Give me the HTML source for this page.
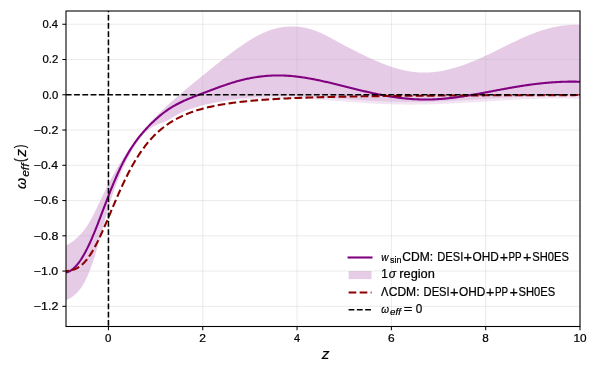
<!DOCTYPE html>
<html><head><meta charset="utf-8"><title>w_eff(z)</title>
<style>
html,body{margin:0;padding:0;background:#fff;}
body{width:598px;height:374px;overflow:hidden;font-family:"Liberation Sans",sans-serif;}
svg{display:block;will-change:transform;}
text{font-family:"Liberation Sans",sans-serif;fill:#000;stroke:#000;stroke-width:0.22px;}
.tl{font-size:10.9px;}
.tk{stroke:#000;stroke-width:1.04;}
.gr{stroke:#b0b0b0;stroke-width:0.83;stroke-opacity:0.3;}
.lg{font-size:11.6px;}
</style></head>
<body>
<svg width="598" height="374" viewBox="0 0 598 374">
<rect x="0" y="0" width="598" height="374" fill="#ffffff"/>
<defs><clipPath id="ax"><rect x="66.0" y="11.0" width="514.0" height="315.5"/></clipPath></defs>
<g clip-path="url(#ax)">
<path d="M66.00,245.52 L67.00,244.99 L68.00,244.43 L69.00,243.85 L70.00,243.22 L71.00,242.57 L72.00,241.88 L73.00,241.16 L74.00,240.39 L75.00,239.59 L76.00,238.74 L77.00,237.85 L78.00,236.91 L79.00,235.92 L80.00,234.88 L81.00,233.78 L82.00,232.63 L83.00,231.42 L84.00,230.14 L85.00,228.80 L86.00,227.40 L87.00,225.92 L88.00,224.38 L89.00,222.76 L90.00,221.07 L91.00,219.31 L92.00,217.48 L93.00,215.59 L94.00,213.63 L95.00,211.62 L96.00,209.57 L97.00,207.48 L98.00,205.37 L99.00,203.24 L100.00,201.12 L101.00,199.01 L102.00,196.92 L103.00,194.85 L104.00,192.80 L105.00,190.78 L106.00,188.78 L107.00,186.79 L108.00,184.84 L109.00,182.90 L110.00,180.99 L111.00,179.10 L112.00,177.24 L113.00,175.40 L114.00,173.58 L115.00,171.78 L116.00,170.01 L117.00,168.27 L118.00,166.54 L119.00,164.84 L120.00,163.17 L121.00,161.51 L122.00,159.89 L123.00,158.28 L124.00,156.69 L125.00,155.13 L126.00,153.59 L127.00,152.08 L128.00,150.58 L129.00,149.11 L130.00,147.66 L131.00,146.22 L132.00,144.81 L133.00,143.43 L134.00,142.06 L135.00,140.71 L136.00,139.38 L137.00,138.07 L138.00,136.78 L139.00,135.51 L140.00,134.26 L141.00,133.02 L142.00,131.81 L143.00,130.61 L144.00,129.43 L145.00,128.27 L146.00,127.12 L147.00,125.99 L148.00,124.88 L149.00,123.78 L150.00,122.69 L151.00,121.62 L152.00,120.55 L153.00,119.50 L154.00,118.47 L155.00,117.44 L156.00,116.42 L157.00,115.42 L158.00,114.42 L159.00,113.43 L160.00,112.46 L161.00,111.49 L162.00,110.53 L163.00,109.57 L164.00,108.63 L165.00,107.69 L166.00,106.76 L167.00,105.84 L168.00,104.92 L169.00,104.01 L170.00,103.10 L171.00,102.21 L172.00,101.31 L173.00,100.43 L174.00,99.54 L175.00,98.66 L176.00,97.79 L177.00,96.92 L178.00,96.06 L179.00,95.20 L180.00,94.34 L181.00,93.49 L182.00,92.64 L183.00,91.80 L184.00,90.95 L185.00,90.11 L186.00,89.28 L187.00,88.44 L188.00,87.61 L189.00,86.78 L190.00,85.96 L191.00,85.13 L192.00,84.31 L193.00,83.48 L194.00,82.66 L195.00,81.85 L196.00,81.03 L197.00,80.21 L198.00,79.40 L199.00,78.58 L200.00,77.77 L201.00,76.95 L202.00,76.14 L203.00,75.32 L204.00,74.51 L205.00,73.70 L206.00,72.88 L207.00,72.07 L208.00,71.26 L209.00,70.44 L210.00,69.63 L211.00,68.82 L212.00,68.01 L213.00,67.21 L214.00,66.40 L215.00,65.60 L216.00,64.80 L217.00,64.00 L218.00,63.21 L219.00,62.41 L220.00,61.62 L221.00,60.84 L222.00,60.05 L223.00,59.27 L224.00,58.50 L225.00,57.72 L226.00,56.96 L227.00,56.19 L228.00,55.43 L229.00,54.68 L230.00,53.92 L231.00,53.18 L232.00,52.44 L233.00,51.70 L234.00,50.97 L235.00,50.24 L236.00,49.52 L237.00,48.81 L238.00,48.10 L239.00,47.39 L240.00,46.69 L241.00,46.00 L242.00,45.31 L243.00,44.63 L244.00,43.96 L245.00,43.29 L246.00,42.63 L247.00,41.98 L248.00,41.34 L249.00,40.70 L250.00,40.08 L251.00,39.46 L252.00,38.86 L253.00,38.27 L254.00,37.69 L255.00,37.12 L256.00,36.56 L257.00,36.01 L258.00,35.48 L259.00,34.96 L260.00,34.46 L261.00,33.97 L262.00,33.49 L263.00,33.02 L264.00,32.58 L265.00,32.14 L266.00,31.72 L267.00,31.32 L268.00,30.93 L269.00,30.56 L270.00,30.20 L271.00,29.86 L272.00,29.54 L273.00,29.23 L274.00,28.95 L275.00,28.67 L276.00,28.42 L277.00,28.18 L278.00,27.96 L279.00,27.75 L280.00,27.56 L281.00,27.39 L282.00,27.23 L283.00,27.09 L284.00,26.96 L285.00,26.85 L286.00,26.76 L287.00,26.68 L288.00,26.61 L289.00,26.56 L290.00,26.52 L291.00,26.50 L292.00,26.50 L293.00,26.51 L294.00,26.53 L295.00,26.57 L296.00,26.62 L297.00,26.69 L298.00,26.77 L299.00,26.87 L300.00,26.98 L301.00,27.11 L302.00,27.26 L303.00,27.42 L304.00,27.59 L305.00,27.78 L306.00,27.99 L307.00,28.21 L308.00,28.45 L309.00,28.71 L310.00,28.99 L311.00,29.28 L312.00,29.59 L313.00,29.91 L314.00,30.25 L315.00,30.61 L316.00,30.99 L317.00,31.37 L318.00,31.78 L319.00,32.19 L320.00,32.62 L321.00,33.06 L322.00,33.52 L323.00,33.98 L324.00,34.46 L325.00,34.95 L326.00,35.45 L327.00,35.95 L328.00,36.47 L329.00,36.99 L330.00,37.51 L331.00,38.05 L332.00,38.59 L333.00,39.13 L334.00,39.68 L335.00,40.23 L336.00,40.78 L337.00,41.33 L338.00,41.88 L339.00,42.43 L340.00,42.98 L341.00,43.52 L342.00,44.07 L343.00,44.61 L344.00,45.14 L345.00,45.68 L346.00,46.21 L347.00,46.73 L348.00,47.26 L349.00,47.78 L350.00,48.30 L351.00,48.82 L352.00,49.33 L353.00,49.85 L354.00,50.36 L355.00,50.87 L356.00,51.37 L357.00,51.87 L358.00,52.38 L359.00,52.88 L360.00,53.37 L361.00,53.87 L362.00,54.36 L363.00,54.85 L364.00,55.33 L365.00,55.81 L366.00,56.29 L367.00,56.77 L368.00,57.24 L369.00,57.70 L370.00,58.17 L371.00,58.62 L372.00,59.08 L373.00,59.53 L374.00,59.97 L375.00,60.41 L376.00,60.84 L377.00,61.27 L378.00,61.69 L379.00,62.11 L380.00,62.52 L381.00,62.93 L382.00,63.33 L383.00,63.72 L384.00,64.11 L385.00,64.49 L386.00,64.86 L387.00,65.23 L388.00,65.59 L389.00,65.94 L390.00,66.29 L391.00,66.63 L392.00,66.96 L393.00,67.28 L394.00,67.60 L395.00,67.90 L396.00,68.20 L397.00,68.49 L398.00,68.78 L399.00,69.05 L400.00,69.32 L401.00,69.57 L402.00,69.82 L403.00,70.06 L404.00,70.28 L405.00,70.50 L406.00,70.71 L407.00,70.91 L408.00,71.10 L409.00,71.28 L410.00,71.45 L411.00,71.60 L412.00,71.75 L413.00,71.88 L414.00,72.01 L415.00,72.12 L416.00,72.22 L417.00,72.31 L418.00,72.39 L419.00,72.46 L420.00,72.51 L421.00,72.55 L422.00,72.58 L423.00,72.60 L424.00,72.61 L425.00,72.60 L426.00,72.59 L427.00,72.56 L428.00,72.52 L429.00,72.47 L430.00,72.41 L431.00,72.34 L432.00,72.26 L433.00,72.16 L434.00,72.06 L435.00,71.95 L436.00,71.82 L437.00,71.69 L438.00,71.55 L439.00,71.39 L440.00,71.23 L441.00,71.06 L442.00,70.88 L443.00,70.69 L444.00,70.49 L445.00,70.28 L446.00,70.06 L447.00,69.84 L448.00,69.60 L449.00,69.36 L450.00,69.11 L451.00,68.85 L452.00,68.58 L453.00,68.30 L454.00,68.02 L455.00,67.73 L456.00,67.43 L457.00,67.12 L458.00,66.81 L459.00,66.49 L460.00,66.16 L461.00,65.83 L462.00,65.49 L463.00,65.14 L464.00,64.78 L465.00,64.42 L466.00,64.05 L467.00,63.68 L468.00,63.30 L469.00,62.91 L470.00,62.52 L471.00,62.12 L472.00,61.72 L473.00,61.31 L474.00,60.90 L475.00,60.48 L476.00,60.05 L477.00,59.63 L478.00,59.19 L479.00,58.75 L480.00,58.31 L481.00,57.86 L482.00,57.41 L483.00,56.96 L484.00,56.50 L485.00,56.04 L486.00,55.57 L487.00,55.10 L488.00,54.63 L489.00,54.15 L490.00,53.67 L491.00,53.19 L492.00,52.70 L493.00,52.22 L494.00,51.73 L495.00,51.24 L496.00,50.75 L497.00,50.25 L498.00,49.76 L499.00,49.26 L500.00,48.77 L501.00,48.27 L502.00,47.78 L503.00,47.28 L504.00,46.78 L505.00,46.29 L506.00,45.79 L507.00,45.30 L508.00,44.81 L509.00,44.32 L510.00,43.83 L511.00,43.34 L512.00,42.85 L513.00,42.37 L514.00,41.89 L515.00,41.41 L516.00,40.94 L517.00,40.47 L518.00,40.00 L519.00,39.53 L520.00,39.07 L521.00,38.62 L522.00,38.17 L523.00,37.72 L524.00,37.28 L525.00,36.84 L526.00,36.41 L527.00,35.98 L528.00,35.56 L529.00,35.15 L530.00,34.74 L531.00,34.34 L532.00,33.94 L533.00,33.55 L534.00,33.17 L535.00,32.79 L536.00,32.42 L537.00,32.06 L538.00,31.71 L539.00,31.36 L540.00,31.02 L541.00,30.69 L542.00,30.36 L543.00,30.05 L544.00,29.74 L545.00,29.44 L546.00,29.15 L547.00,28.87 L548.00,28.60 L549.00,28.33 L550.00,28.07 L551.00,27.83 L552.00,27.59 L553.00,27.36 L554.00,27.14 L555.00,26.93 L556.00,26.73 L557.00,26.54 L558.00,26.36 L559.00,26.18 L560.00,26.02 L561.00,25.87 L562.00,25.72 L563.00,25.59 L564.00,25.46 L565.00,25.35 L566.00,25.25 L567.00,25.15 L568.00,25.07 L569.00,24.99 L570.00,24.93 L571.00,24.87 L572.00,24.83 L573.00,24.79 L574.00,24.77 L575.00,24.75 L576.00,24.75 L577.00,24.75 L578.00,24.77 L579.00,24.79 L580.00,24.83 L580.00,96.26 L579.00,96.22 L578.00,96.18 L577.00,96.15 L576.00,96.12 L575.00,96.09 L574.00,96.06 L573.00,96.03 L572.00,96.01 L571.00,95.99 L570.00,95.97 L569.00,95.95 L568.00,95.93 L567.00,95.92 L566.00,95.90 L565.00,95.89 L564.00,95.88 L563.00,95.88 L562.00,95.87 L561.00,95.87 L560.00,95.86 L559.00,95.86 L558.00,95.86 L557.00,95.87 L556.00,95.87 L555.00,95.88 L554.00,95.88 L553.00,95.89 L552.00,95.90 L551.00,95.92 L550.00,95.93 L549.00,95.94 L548.00,95.96 L547.00,95.98 L546.00,96.00 L545.00,96.02 L544.00,96.04 L543.00,96.06 L542.00,96.09 L541.00,96.11 L540.00,96.14 L539.00,96.17 L538.00,96.20 L537.00,96.23 L536.00,96.26 L535.00,96.30 L534.00,96.33 L533.00,96.37 L532.00,96.40 L531.00,96.44 L530.00,96.48 L529.00,96.52 L528.00,96.56 L527.00,96.60 L526.00,96.64 L525.00,96.69 L524.00,96.73 L523.00,96.78 L522.00,96.82 L521.00,96.87 L520.00,96.92 L519.00,96.97 L518.00,97.02 L517.00,97.07 L516.00,97.12 L515.00,97.17 L514.00,97.22 L513.00,97.27 L512.00,97.33 L511.00,97.38 L510.00,97.44 L509.00,97.49 L508.00,97.55 L507.00,97.61 L506.00,97.66 L505.00,97.72 L504.00,97.78 L503.00,97.84 L502.00,97.90 L501.00,97.95 L500.00,98.01 L499.00,98.07 L498.00,98.13 L497.00,98.20 L496.00,98.26 L495.00,98.32 L494.00,98.38 L493.00,98.44 L492.00,98.50 L491.00,98.56 L490.00,98.63 L489.00,98.69 L488.00,98.75 L487.00,98.81 L486.00,98.88 L485.00,98.94 L484.00,99.00 L483.00,99.06 L482.00,99.13 L481.00,99.19 L480.00,99.25 L479.00,99.31 L478.00,99.37 L477.00,99.44 L476.00,99.50 L475.00,99.56 L474.00,99.62 L473.00,99.68 L472.00,99.74 L471.00,99.80 L470.00,99.86 L469.00,99.92 L468.00,99.98 L467.00,100.04 L466.00,100.10 L465.00,100.16 L464.00,100.22 L463.00,100.27 L462.00,100.33 L461.00,100.39 L460.00,100.44 L459.00,100.50 L458.00,100.55 L457.00,100.61 L456.00,100.66 L455.00,100.71 L454.00,100.77 L453.00,100.82 L452.00,100.87 L451.00,100.92 L450.00,100.97 L449.00,101.02 L448.00,101.06 L447.00,101.11 L446.00,101.16 L445.00,101.20 L444.00,101.25 L443.00,101.29 L442.00,101.33 L441.00,101.37 L440.00,101.41 L439.00,101.45 L438.00,101.49 L437.00,101.53 L436.00,101.56 L435.00,101.60 L434.00,101.63 L433.00,101.67 L432.00,101.70 L431.00,101.73 L430.00,101.76 L429.00,101.78 L428.00,101.81 L427.00,101.84 L426.00,101.86 L425.00,101.88 L424.00,101.90 L423.00,101.92 L422.00,101.94 L421.00,101.96 L420.00,101.98 L419.00,101.99 L418.00,102.00 L417.00,102.01 L416.00,102.02 L415.00,102.03 L414.00,102.04 L413.00,102.04 L412.00,102.05 L411.00,102.05 L410.00,102.05 L409.00,102.05 L408.00,102.04 L407.00,102.04 L406.00,102.03 L405.00,102.02 L404.00,102.01 L403.00,102.00 L402.00,101.99 L401.00,101.97 L400.00,101.95 L399.00,101.93 L398.00,101.91 L397.00,101.89 L396.00,101.86 L395.00,101.84 L394.00,101.81 L393.00,101.78 L392.00,101.74 L391.00,101.71 L390.00,101.68 L389.00,101.64 L388.00,101.60 L387.00,101.56 L386.00,101.52 L385.00,101.48 L384.00,101.43 L383.00,101.39 L382.00,101.34 L381.00,101.29 L380.00,101.24 L379.00,101.19 L378.00,101.14 L377.00,101.09 L376.00,101.03 L375.00,100.98 L374.00,100.92 L373.00,100.86 L372.00,100.80 L371.00,100.74 L370.00,100.68 L369.00,100.62 L368.00,100.56 L367.00,100.50 L366.00,100.43 L365.00,100.37 L364.00,100.30 L363.00,100.24 L362.00,100.17 L361.00,100.10 L360.00,100.04 L359.00,99.97 L358.00,99.90 L357.00,99.83 L356.00,99.76 L355.00,99.69 L354.00,99.62 L353.00,99.54 L352.00,99.47 L351.00,99.40 L350.00,99.33 L349.00,99.25 L348.00,99.18 L347.00,99.11 L346.00,99.04 L345.00,98.96 L344.00,98.89 L343.00,98.81 L342.00,98.74 L341.00,98.67 L340.00,98.59 L339.00,98.52 L338.00,98.45 L337.00,98.37 L336.00,98.30 L335.00,98.23 L334.00,98.15 L333.00,98.08 L332.00,98.01 L331.00,97.94 L330.00,97.86 L329.00,97.79 L328.00,97.72 L327.00,97.65 L326.00,97.58 L325.00,97.51 L324.00,97.44 L323.00,97.38 L322.00,97.31 L321.00,97.24 L320.00,97.17 L319.00,97.12 L318.00,97.07 L317.00,97.01 L316.00,96.96 L315.00,96.91 L314.00,96.86 L313.00,96.81 L312.00,96.77 L311.00,96.72 L310.00,96.67 L309.00,96.63 L308.00,96.58 L307.00,96.54 L306.00,96.50 L305.00,96.46 L304.00,96.42 L303.00,96.38 L302.00,96.34 L301.00,96.31 L300.00,96.27 L299.00,96.24 L298.00,96.21 L297.00,96.18 L296.00,96.15 L295.00,96.12 L294.00,96.10 L293.00,96.07 L292.00,96.05 L291.00,96.03 L290.00,96.01 L289.00,95.99 L288.00,95.98 L287.00,95.96 L286.00,95.95 L285.00,95.94 L284.00,95.93 L283.00,95.93 L282.00,95.92 L281.00,95.92 L280.00,95.92 L279.00,95.92 L278.00,95.92 L277.00,95.93 L276.00,95.94 L275.00,95.95 L274.00,95.96 L273.00,95.97 L272.00,95.99 L271.00,96.01 L270.00,96.03 L269.00,96.08 L268.00,96.12 L267.00,96.18 L266.00,96.23 L265.00,96.28 L264.00,96.34 L263.00,96.40 L262.00,96.46 L261.00,96.53 L260.00,96.60 L259.00,96.66 L258.00,96.72 L257.00,96.79 L256.00,96.85 L255.00,96.92 L254.00,97.00 L253.00,97.08 L252.00,97.15 L251.00,97.24 L250.00,97.32 L249.00,97.41 L248.00,97.50 L247.00,97.60 L246.00,97.70 L245.00,97.80 L244.00,97.90 L243.00,98.01 L242.00,98.12 L241.00,98.24 L240.00,98.36 L239.00,98.48 L238.00,98.60 L237.00,98.73 L236.00,98.86 L235.00,99.00 L234.00,99.14 L233.00,99.28 L232.00,99.43 L231.00,99.58 L230.00,99.74 L229.00,99.89 L228.00,100.06 L227.00,100.22 L226.00,100.39 L225.00,100.57 L224.00,100.75 L223.00,100.93 L222.00,101.11 L221.00,101.30 L220.00,101.50 L219.00,101.70 L218.00,101.90 L217.00,102.11 L216.00,102.32 L215.00,102.54 L214.00,102.76 L213.00,102.98 L212.00,103.21 L211.00,103.44 L210.00,103.68 L209.00,103.90 L208.00,104.13 L207.00,104.36 L206.00,104.60 L205.00,104.84 L204.00,105.08 L203.00,105.33 L202.00,105.59 L201.00,105.85 L200.00,106.11 L199.00,106.38 L198.00,106.66 L197.00,106.94 L196.00,107.23 L195.00,107.52 L194.00,107.83 L193.00,108.14 L192.00,108.46 L191.00,108.79 L190.00,109.12 L189.00,109.47 L188.00,109.83 L187.00,110.21 L186.00,110.59 L185.00,110.99 L184.00,111.40 L183.00,111.83 L182.00,112.28 L181.00,112.74 L180.00,113.22 L179.00,113.72 L178.00,114.24 L177.00,114.78 L176.00,115.34 L175.00,115.93 L174.00,116.53 L173.00,117.15 L172.00,117.76 L171.00,118.38 L170.00,118.98 L169.00,119.57 L168.00,120.13 L167.00,120.66 L166.00,121.16 L165.00,121.62 L164.00,122.04 L163.00,122.44 L162.00,122.82 L161.00,123.20 L160.00,123.56 L159.00,123.94 L158.00,124.32 L157.00,124.72 L156.00,125.14 L155.00,125.60 L154.00,126.11 L153.00,126.65 L152.00,127.24 L151.00,127.88 L150.00,128.56 L149.00,129.29 L148.00,130.08 L147.00,130.92 L146.00,131.81 L145.00,132.76 L144.00,133.76 L143.00,134.82 L142.00,135.95 L141.00,137.13 L140.00,138.38 L139.00,139.68 L138.00,141.05 L137.00,142.48 L136.00,143.97 L135.00,145.51 L134.00,147.11 L133.00,148.77 L132.00,150.46 L131.00,152.20 L130.00,153.99 L129.00,155.82 L128.00,157.70 L127.00,159.63 L126.00,161.62 L125.00,163.65 L124.00,165.75 L123.00,167.91 L122.00,170.13 L121.00,172.41 L120.00,174.77 L119.00,177.20 L118.00,179.70 L117.00,182.28 L116.00,184.94 L115.00,187.69 L114.00,190.53 L113.00,193.46 L112.00,196.48 L111.00,199.60 L110.00,202.81 L109.00,206.13 L108.00,209.53 L107.00,213.01 L106.00,216.56 L105.00,220.16 L104.00,223.80 L103.00,227.45 L102.00,231.11 L101.00,234.75 L100.00,238.35 L99.00,241.89 L98.00,245.37 L97.00,248.77 L96.00,252.07 L95.00,255.29 L94.00,258.41 L93.00,261.43 L92.00,264.35 L91.00,267.17 L90.00,269.89 L89.00,272.49 L88.00,274.93 L87.00,277.22 L86.00,279.35 L85.00,281.33 L84.00,283.16 L83.00,284.85 L82.00,286.42 L81.00,287.86 L80.00,289.20 L79.00,290.44 L78.00,291.59 L77.00,292.65 L76.00,293.64 L75.00,294.55 L74.00,295.40 L73.00,296.19 L72.00,296.91 L71.00,297.59 L70.00,298.21 L69.00,298.79 L68.00,299.33 L67.00,299.82 L66.00,300.14 Z" fill="#800080" fill-opacity="0.1056" stroke="none"/>
<path d="M66.00,245.52 L67.00,244.99 L68.00,244.43 L69.00,243.85 L70.00,243.22 L71.00,242.57 L72.00,241.88 L73.00,241.16 L74.00,240.39 L75.00,239.59 L76.00,238.74 L77.00,237.85 L78.00,236.91 L79.00,235.92 L80.00,234.88 L81.00,233.78 L82.00,232.63 L83.00,231.42 L84.00,230.14 L85.00,228.80 L86.00,227.40 L87.00,225.92 L88.00,224.38 L89.00,222.76 L90.00,221.07 L91.00,219.31 L92.00,217.48 L93.00,215.59 L94.00,213.63 L95.00,211.62 L96.00,209.57 L97.00,207.48 L98.00,205.37 L99.00,203.24 L100.00,201.12 L101.00,199.01 L102.00,196.92 L103.00,194.85 L104.00,192.80 L105.00,190.78 L106.00,188.78 L107.00,186.79 L108.00,184.84 L109.00,182.90 L110.00,180.99 L111.00,179.10 L112.00,177.24 L113.00,175.40 L114.00,173.58 L115.00,171.78 L116.00,170.01 L117.00,168.27 L118.00,166.54 L119.00,164.84 L120.00,163.17 L121.00,161.51 L122.00,159.89 L123.00,158.28 L124.00,156.69 L125.00,155.13 L126.00,153.59 L127.00,152.08 L128.00,150.58 L129.00,149.11 L130.00,147.66 L131.00,146.22 L132.00,144.81 L133.00,143.43 L134.00,142.06 L135.00,140.71 L136.00,139.38 L137.00,138.07 L138.00,136.78 L139.00,135.51 L140.00,134.26 L141.00,133.02 L142.00,131.81 L143.00,130.61 L144.00,129.43 L145.00,128.27 L146.00,127.12 L147.00,125.99 L148.00,124.88 L149.00,123.78 L150.00,122.69 L151.00,121.62 L152.00,120.55 L153.00,119.50 L154.00,118.47 L155.00,117.44 L156.00,116.42 L157.00,115.42 L158.00,114.42 L159.00,113.43 L160.00,112.46 L161.00,111.49 L162.00,110.53 L163.00,109.57 L164.00,108.63 L165.00,107.69 L166.00,106.76 L167.00,105.84 L168.00,104.92 L169.00,104.01 L170.00,103.10 L171.00,102.21 L172.00,101.31 L173.00,100.43 L174.00,99.54 L175.00,98.66 L176.00,97.79 L177.00,96.92 L178.00,96.06 L179.00,95.20 L180.00,94.34 L181.00,93.49 L182.00,92.64 L183.00,91.80 L184.00,90.95 L185.00,90.11 L186.00,89.28 L187.00,88.44 L188.00,87.61 L189.00,86.78 L190.00,85.96 L191.00,85.13 L192.00,84.31 L193.00,83.48 L194.00,82.66 L195.00,81.85 L196.00,81.03 L197.00,80.21 L198.00,79.40 L199.00,78.58 L200.00,77.77 L201.00,76.95 L202.00,76.14 L203.00,75.32 L204.00,74.51 L205.00,73.70 L206.00,72.88 L207.00,72.07 L208.00,71.26 L209.00,70.44 L210.00,69.63 L211.00,68.82 L212.00,68.01 L213.00,67.21 L214.00,66.40 L215.00,65.60 L216.00,64.80 L217.00,64.00 L218.00,63.21 L219.00,62.41 L220.00,61.62 L221.00,60.84 L222.00,60.05 L223.00,59.27 L224.00,58.50 L225.00,57.72 L226.00,56.96 L227.00,56.19 L228.00,55.43 L229.00,54.68 L230.00,53.92 L231.00,53.18 L232.00,52.44 L233.00,51.70 L234.00,50.97 L235.00,50.24 L236.00,49.52 L237.00,48.81 L238.00,48.10 L239.00,47.39 L240.00,46.69 L241.00,46.00 L242.00,45.31 L243.00,44.63 L244.00,43.96 L245.00,43.29 L246.00,42.63 L247.00,41.98 L248.00,41.34 L249.00,40.70 L250.00,40.08 L251.00,39.46 L252.00,38.86 L253.00,38.27 L254.00,37.69 L255.00,37.12 L256.00,36.56 L257.00,36.01 L258.00,35.48 L259.00,34.96 L260.00,34.46 L261.00,33.97 L262.00,33.49 L263.00,33.02 L264.00,32.58 L265.00,32.14 L266.00,31.72 L267.00,31.32 L268.00,30.93 L269.00,30.56 L270.00,30.20 L271.00,29.86 L272.00,29.54 L273.00,29.23 L274.00,28.95 L275.00,28.67 L276.00,28.42 L277.00,28.18 L278.00,27.96 L279.00,27.75 L280.00,27.56 L281.00,27.39 L282.00,27.23 L283.00,27.09 L284.00,26.96 L285.00,26.85 L286.00,26.76 L287.00,26.68 L288.00,26.61 L289.00,26.56 L290.00,26.52 L291.00,26.50 L292.00,26.50 L293.00,26.51 L294.00,26.53 L295.00,26.57 L296.00,26.62 L297.00,26.69 L298.00,26.77 L299.00,26.87 L300.00,26.98 L301.00,27.11 L302.00,27.26 L303.00,27.42 L304.00,27.59 L305.00,27.78 L306.00,27.99 L307.00,28.21 L308.00,28.45 L309.00,28.71 L310.00,28.99 L311.00,29.28 L312.00,29.59 L313.00,29.91 L314.00,30.25 L315.00,30.61 L316.00,30.99 L317.00,31.37 L318.00,31.78 L319.00,32.19 L320.00,32.62 L321.00,33.06 L322.00,33.52 L323.00,33.98 L324.00,34.46 L325.00,34.95 L326.00,35.45 L327.00,35.95 L328.00,36.47 L329.00,36.99 L330.00,37.51 L331.00,38.05 L332.00,38.59 L333.00,39.13 L334.00,39.68 L335.00,40.23 L336.00,40.78 L337.00,41.33 L338.00,41.88 L339.00,42.43 L340.00,42.98 L341.00,43.52 L342.00,44.07 L343.00,44.61 L344.00,45.14 L345.00,45.68 L346.00,46.21 L347.00,46.73 L348.00,47.26 L349.00,47.78 L350.00,48.30 L351.00,48.82 L352.00,49.33 L353.00,49.85 L354.00,50.36 L355.00,50.87 L356.00,51.37 L357.00,51.87 L358.00,52.38 L359.00,52.88 L360.00,53.37 L361.00,53.87 L362.00,54.36 L363.00,54.85 L364.00,55.33 L365.00,55.81 L366.00,56.29 L367.00,56.77 L368.00,57.24 L369.00,57.70 L370.00,58.17 L371.00,58.62 L372.00,59.08 L373.00,59.53 L374.00,59.97 L375.00,60.41 L376.00,60.84 L377.00,61.27 L378.00,61.69 L379.00,62.11 L380.00,62.52 L381.00,62.93 L382.00,63.33 L383.00,63.72 L384.00,64.11 L385.00,64.49 L386.00,64.86 L387.00,65.23 L388.00,65.59 L389.00,65.94 L390.00,66.29 L391.00,66.63 L392.00,66.96 L393.00,67.28 L394.00,67.60 L395.00,67.90 L396.00,68.20 L397.00,68.49 L398.00,68.78 L399.00,69.05 L400.00,69.32 L401.00,69.57 L402.00,69.82 L403.00,70.06 L404.00,70.28 L405.00,70.50 L406.00,70.71 L407.00,70.91 L408.00,71.10 L409.00,71.28 L410.00,71.45 L411.00,71.60 L412.00,71.75 L413.00,71.88 L414.00,72.01 L415.00,72.12 L416.00,72.22 L417.00,72.31 L418.00,72.39 L419.00,72.46 L420.00,72.51 L421.00,72.55 L422.00,72.58 L423.00,72.60 L424.00,72.61 L425.00,72.60 L426.00,72.59 L427.00,72.56 L428.00,72.52 L429.00,72.47 L430.00,72.41 L431.00,72.34 L432.00,72.26 L433.00,72.16 L434.00,72.06 L435.00,71.95 L436.00,71.82 L437.00,71.69 L438.00,71.55 L439.00,71.39 L440.00,71.23 L441.00,71.06 L442.00,70.88 L443.00,70.69 L444.00,70.49 L445.00,70.28 L446.00,70.06 L447.00,69.84 L448.00,69.60 L449.00,69.36 L450.00,69.11 L451.00,68.85 L452.00,68.58 L453.00,68.30 L454.00,68.02 L455.00,67.73 L456.00,67.43 L457.00,67.12 L458.00,66.81 L459.00,66.49 L460.00,66.16 L461.00,65.83 L462.00,65.49 L463.00,65.14 L464.00,64.78 L465.00,64.42 L466.00,64.05 L467.00,63.68 L468.00,63.30 L469.00,62.91 L470.00,62.52 L471.00,62.12 L472.00,61.72 L473.00,61.31 L474.00,60.90 L475.00,60.48 L476.00,60.05 L477.00,59.63 L478.00,59.19 L479.00,58.75 L480.00,58.31 L481.00,57.86 L482.00,57.41 L483.00,56.96 L484.00,56.50 L485.00,56.04 L486.00,55.57 L487.00,55.10 L488.00,54.63 L489.00,54.15 L490.00,53.67 L491.00,53.19 L492.00,52.70 L493.00,52.22 L494.00,51.73 L495.00,51.24 L496.00,50.75 L497.00,50.25 L498.00,49.76 L499.00,49.26 L500.00,48.77 L501.00,48.27 L502.00,47.78 L503.00,47.28 L504.00,46.78 L505.00,46.29 L506.00,45.79 L507.00,45.30 L508.00,44.81 L509.00,44.32 L510.00,43.83 L511.00,43.34 L512.00,42.85 L513.00,42.37 L514.00,41.89 L515.00,41.41 L516.00,40.94 L517.00,40.47 L518.00,40.00 L519.00,39.53 L520.00,39.07 L521.00,38.62 L522.00,38.17 L523.00,37.72 L524.00,37.28 L525.00,36.84 L526.00,36.41 L527.00,35.98 L528.00,35.56 L529.00,35.15 L530.00,34.74 L531.00,34.34 L532.00,33.94 L533.00,33.55 L534.00,33.17 L535.00,32.79 L536.00,32.42 L537.00,32.06 L538.00,31.71 L539.00,31.36 L540.00,31.02 L541.00,30.69 L542.00,30.36 L543.00,30.05 L544.00,29.74 L545.00,29.44 L546.00,29.15 L547.00,28.87 L548.00,28.60 L549.00,28.33 L550.00,28.07 L551.00,27.83 L552.00,27.59 L553.00,27.36 L554.00,27.14 L555.00,26.93 L556.00,26.73 L557.00,26.54 L558.00,26.36 L559.00,26.18 L560.00,26.02 L561.00,25.87 L562.00,25.72 L563.00,25.59 L564.00,25.46 L565.00,25.35 L566.00,25.25 L567.00,25.15 L568.00,25.07 L569.00,24.99 L570.00,24.93 L571.00,24.87 L572.00,24.83 L573.00,24.79 L574.00,24.77 L575.00,24.75 L576.00,24.75 L577.00,24.75 L578.00,24.77 L579.00,24.79 L580.00,24.83 L580.00,98.86 L579.00,98.82 L578.00,98.78 L577.00,98.75 L576.00,98.72 L575.00,98.69 L574.00,98.66 L573.00,98.63 L572.00,98.61 L571.00,98.59 L570.00,98.57 L569.00,98.55 L568.00,98.53 L567.00,98.52 L566.00,98.50 L565.00,98.49 L564.00,98.48 L563.00,98.48 L562.00,98.47 L561.00,98.47 L560.00,98.46 L559.00,98.46 L558.00,98.46 L557.00,98.47 L556.00,98.47 L555.00,98.48 L554.00,98.48 L553.00,98.49 L552.00,98.50 L551.00,98.52 L550.00,98.53 L549.00,98.54 L548.00,98.56 L547.00,98.58 L546.00,98.60 L545.00,98.62 L544.00,98.64 L543.00,98.66 L542.00,98.69 L541.00,98.71 L540.00,98.74 L539.00,98.77 L538.00,98.80 L537.00,98.83 L536.00,98.86 L535.00,98.90 L534.00,98.93 L533.00,98.97 L532.00,99.00 L531.00,99.04 L530.00,99.08 L529.00,99.12 L528.00,99.16 L527.00,99.20 L526.00,99.24 L525.00,99.29 L524.00,99.33 L523.00,99.38 L522.00,99.42 L521.00,99.47 L520.00,99.52 L519.00,99.57 L518.00,99.62 L517.00,99.67 L516.00,99.72 L515.00,99.77 L514.00,99.82 L513.00,99.87 L512.00,99.93 L511.00,99.98 L510.00,100.04 L509.00,100.09 L508.00,100.15 L507.00,100.21 L506.00,100.26 L505.00,100.32 L504.00,100.38 L503.00,100.44 L502.00,100.50 L501.00,100.55 L500.00,100.61 L499.00,100.67 L498.00,100.73 L497.00,100.80 L496.00,100.86 L495.00,100.92 L494.00,100.98 L493.00,101.04 L492.00,101.10 L491.00,101.16 L490.00,101.23 L489.00,101.29 L488.00,101.35 L487.00,101.41 L486.00,101.48 L485.00,101.54 L484.00,101.60 L483.00,101.66 L482.00,101.73 L481.00,101.79 L480.00,101.85 L479.00,101.91 L478.00,101.97 L477.00,102.04 L476.00,102.10 L475.00,102.16 L474.00,102.22 L473.00,102.28 L472.00,102.34 L471.00,102.40 L470.00,102.46 L469.00,102.52 L468.00,102.58 L467.00,102.64 L466.00,102.70 L465.00,102.76 L464.00,102.82 L463.00,102.87 L462.00,102.93 L461.00,102.99 L460.00,103.04 L459.00,103.10 L458.00,103.15 L457.00,103.21 L456.00,103.26 L455.00,103.31 L454.00,103.37 L453.00,103.42 L452.00,103.47 L451.00,103.52 L450.00,103.57 L449.00,103.62 L448.00,103.66 L447.00,103.71 L446.00,103.76 L445.00,103.80 L444.00,103.85 L443.00,103.89 L442.00,103.93 L441.00,103.97 L440.00,104.01 L439.00,104.05 L438.00,104.09 L437.00,104.13 L436.00,104.16 L435.00,104.20 L434.00,104.23 L433.00,104.27 L432.00,104.30 L431.00,104.33 L430.00,104.36 L429.00,104.38 L428.00,104.41 L427.00,104.44 L426.00,104.46 L425.00,104.48 L424.00,104.50 L423.00,104.52 L422.00,104.54 L421.00,104.56 L420.00,104.58 L419.00,104.59 L418.00,104.60 L417.00,104.61 L416.00,104.62 L415.00,104.63 L414.00,104.64 L413.00,104.64 L412.00,104.65 L411.00,104.65 L410.00,104.65 L409.00,104.65 L408.00,104.64 L407.00,104.64 L406.00,104.63 L405.00,104.62 L404.00,104.61 L403.00,104.60 L402.00,104.59 L401.00,104.57 L400.00,104.55 L399.00,104.53 L398.00,104.51 L397.00,104.49 L396.00,104.46 L395.00,104.44 L394.00,104.41 L393.00,104.38 L392.00,104.34 L391.00,104.31 L390.00,104.28 L389.00,104.24 L388.00,104.20 L387.00,104.16 L386.00,104.12 L385.00,104.08 L384.00,104.03 L383.00,103.99 L382.00,103.94 L381.00,103.89 L380.00,103.84 L379.00,103.79 L378.00,103.74 L377.00,103.69 L376.00,103.63 L375.00,103.58 L374.00,103.52 L373.00,103.46 L372.00,103.40 L371.00,103.34 L370.00,103.28 L369.00,103.22 L368.00,103.16 L367.00,103.10 L366.00,103.03 L365.00,102.97 L364.00,102.90 L363.00,102.84 L362.00,102.77 L361.00,102.70 L360.00,102.64 L359.00,102.57 L358.00,102.50 L357.00,102.43 L356.00,102.36 L355.00,102.29 L354.00,102.22 L353.00,102.14 L352.00,102.07 L351.00,102.00 L350.00,101.93 L349.00,101.85 L348.00,101.78 L347.00,101.71 L346.00,101.64 L345.00,101.56 L344.00,101.49 L343.00,101.41 L342.00,101.34 L341.00,101.27 L340.00,101.19 L339.00,101.12 L338.00,101.05 L337.00,100.97 L336.00,100.90 L335.00,100.83 L334.00,100.75 L333.00,100.68 L332.00,100.61 L331.00,100.54 L330.00,100.46 L329.00,100.39 L328.00,100.32 L327.00,100.25 L326.00,100.18 L325.00,100.11 L324.00,100.04 L323.00,99.98 L322.00,99.91 L321.00,99.84 L320.00,99.77 L319.00,99.72 L318.00,99.67 L317.00,99.61 L316.00,99.56 L315.00,99.51 L314.00,99.46 L313.00,99.41 L312.00,99.37 L311.00,99.32 L310.00,99.27 L309.00,99.23 L308.00,99.18 L307.00,99.14 L306.00,99.10 L305.00,99.06 L304.00,99.02 L303.00,98.98 L302.00,98.94 L301.00,98.91 L300.00,98.87 L299.00,98.84 L298.00,98.81 L297.00,98.78 L296.00,98.75 L295.00,98.72 L294.00,98.70 L293.00,98.67 L292.00,98.65 L291.00,98.63 L290.00,98.61 L289.00,98.59 L288.00,98.58 L287.00,98.56 L286.00,98.55 L285.00,98.54 L284.00,98.53 L283.00,98.53 L282.00,98.52 L281.00,98.52 L280.00,98.52 L279.00,98.52 L278.00,98.52 L277.00,98.53 L276.00,98.54 L275.00,98.55 L274.00,98.56 L273.00,98.57 L272.00,98.59 L271.00,98.61 L270.00,98.63 L269.00,98.63 L268.00,98.64 L267.00,98.65 L266.00,98.65 L265.00,98.67 L264.00,98.68 L263.00,98.70 L262.00,98.72 L261.00,98.74 L260.00,98.77 L259.00,98.78 L258.00,98.80 L257.00,98.82 L256.00,98.85 L255.00,98.87 L254.00,98.91 L253.00,98.94 L252.00,98.97 L251.00,99.01 L250.00,99.06 L249.00,99.10 L248.00,99.15 L247.00,99.20 L246.00,99.26 L245.00,99.32 L244.00,99.38 L243.00,99.44 L242.00,99.51 L241.00,99.58 L240.00,99.66 L239.00,99.74 L238.00,99.82 L237.00,99.90 L236.00,99.99 L235.00,100.08 L234.00,100.18 L233.00,100.28 L232.00,100.38 L231.00,100.49 L230.00,100.60 L229.00,100.72 L228.00,100.84 L227.00,100.96 L226.00,101.09 L225.00,101.22 L224.00,101.35 L223.00,101.49 L222.00,101.63 L221.00,101.78 L220.00,101.93 L219.00,102.09 L218.00,102.25 L217.00,102.41 L216.00,102.58 L215.00,102.75 L214.00,102.93 L213.00,103.11 L212.00,103.30 L211.00,103.49 L210.00,103.68 L209.00,103.90 L208.00,104.13 L207.00,104.36 L206.00,104.60 L205.00,104.84 L204.00,105.08 L203.00,105.33 L202.00,105.59 L201.00,105.85 L200.00,106.11 L199.00,106.38 L198.00,106.66 L197.00,106.94 L196.00,107.23 L195.00,107.52 L194.00,107.83 L193.00,108.14 L192.00,108.46 L191.00,108.79 L190.00,109.12 L189.00,109.47 L188.00,109.83 L187.00,110.21 L186.00,110.59 L185.00,110.99 L184.00,111.40 L183.00,111.83 L182.00,112.28 L181.00,112.74 L180.00,113.22 L179.00,113.72 L178.00,114.24 L177.00,114.78 L176.00,115.34 L175.00,115.93 L174.00,116.53 L173.00,117.15 L172.00,117.76 L171.00,118.38 L170.00,118.98 L169.00,119.57 L168.00,120.13 L167.00,120.66 L166.00,121.16 L165.00,121.62 L164.00,122.04 L163.00,122.44 L162.00,122.82 L161.00,123.20 L160.00,123.56 L159.00,123.94 L158.00,124.32 L157.00,124.72 L156.00,125.14 L155.00,125.60 L154.00,126.11 L153.00,126.65 L152.00,127.24 L151.00,127.88 L150.00,128.56 L149.00,129.29 L148.00,130.08 L147.00,130.92 L146.00,131.81 L145.00,132.76 L144.00,133.76 L143.00,134.82 L142.00,135.95 L141.00,137.13 L140.00,138.38 L139.00,139.68 L138.00,141.05 L137.00,142.48 L136.00,143.97 L135.00,145.51 L134.00,147.11 L133.00,148.77 L132.00,150.46 L131.00,152.20 L130.00,153.99 L129.00,155.82 L128.00,157.70 L127.00,159.63 L126.00,161.62 L125.00,163.65 L124.00,165.75 L123.00,167.91 L122.00,170.13 L121.00,172.41 L120.00,174.77 L119.00,177.20 L118.00,179.70 L117.00,182.28 L116.00,184.94 L115.00,187.69 L114.00,190.53 L113.00,193.46 L112.00,196.48 L111.00,199.60 L110.00,202.81 L109.00,206.13 L108.00,209.53 L107.00,213.01 L106.00,216.56 L105.00,220.16 L104.00,223.80 L103.00,227.45 L102.00,231.11 L101.00,234.75 L100.00,238.35 L99.00,241.89 L98.00,245.37 L97.00,248.77 L96.00,252.07 L95.00,255.29 L94.00,258.41 L93.00,261.43 L92.00,264.35 L91.00,267.17 L90.00,269.89 L89.00,272.49 L88.00,274.93 L87.00,277.22 L86.00,279.35 L85.00,281.33 L84.00,283.16 L83.00,284.85 L82.00,286.42 L81.00,287.86 L80.00,289.20 L79.00,290.44 L78.00,291.59 L77.00,292.65 L76.00,293.64 L75.00,294.55 L74.00,295.40 L73.00,296.19 L72.00,296.91 L71.00,297.59 L70.00,298.21 L69.00,298.79 L68.00,299.33 L67.00,299.82 L66.00,300.14 Z" fill="#800080" fill-opacity="0.1056" stroke="none"/>
</g>
<g><line x1="108.44" y1="11.0" x2="108.44" y2="326.5" class="gr"/><line x1="202.75" y1="11.0" x2="202.75" y2="326.5" class="gr"/><line x1="297.06" y1="11.0" x2="297.06" y2="326.5" class="gr"/><line x1="391.38" y1="11.0" x2="391.38" y2="326.5" class="gr"/><line x1="485.69" y1="11.0" x2="485.69" y2="326.5" class="gr"/><line x1="580.00" y1="11.0" x2="580.00" y2="326.5" class="gr"/><line x1="66.0" y1="24.25" x2="580.0" y2="24.25" class="gr"/><line x1="66.0" y1="59.51" x2="580.0" y2="59.51" class="gr"/><line x1="66.0" y1="94.77" x2="580.0" y2="94.77" class="gr"/><line x1="66.0" y1="130.03" x2="580.0" y2="130.03" class="gr"/><line x1="66.0" y1="165.29" x2="580.0" y2="165.29" class="gr"/><line x1="66.0" y1="200.55" x2="580.0" y2="200.55" class="gr"/><line x1="66.0" y1="235.81" x2="580.0" y2="235.81" class="gr"/><line x1="66.0" y1="271.07" x2="580.0" y2="271.07" class="gr"/><line x1="66.0" y1="306.33" x2="580.0" y2="306.33" class="gr"/></g>
<g clip-path="url(#ax)" fill="none">
<path d="M66.00,272.47 L67.00,272.23 L68.00,271.90 L69.00,271.49 L70.00,270.98 L71.00,270.39 L72.00,269.70 L73.00,268.93 L74.00,268.07 L75.00,267.11 L76.00,266.06 L77.00,264.93 L78.00,263.70 L79.00,262.39 L80.00,260.99 L81.00,259.50 L82.00,257.93 L83.00,256.27 L84.00,254.53 L85.00,252.72 L86.00,250.83 L87.00,248.87 L88.00,246.84 L89.00,244.74 L90.00,242.57 L91.00,240.34 L92.00,238.06 L93.00,235.71 L94.00,233.31 L95.00,230.87 L96.00,228.38 L97.00,225.85 L98.00,223.29 L99.00,220.70 L100.00,218.09 L101.00,215.46 L102.00,212.82 L103.00,210.17 L104.00,207.53 L105.00,204.89 L106.00,202.26 L107.00,199.65 L108.00,197.07 L109.00,194.50 L110.00,191.97 L111.00,189.47 L112.00,187.01 L113.00,184.57 L114.00,182.18 L115.00,179.83 L116.00,177.52 L117.00,175.25 L118.00,173.03 L119.00,170.86 L120.00,168.73 L121.00,166.65 L122.00,164.62 L123.00,162.63 L124.00,160.70 L125.00,158.82 L126.00,156.98 L127.00,155.19 L128.00,153.46 L129.00,151.76 L130.00,150.12 L131.00,148.52 L132.00,146.96 L133.00,145.45 L134.00,143.98 L135.00,142.55 L136.00,141.16 L137.00,139.81 L138.00,138.49 L139.00,137.21 L140.00,135.96 L141.00,134.74 L142.00,133.55 L143.00,132.38 L144.00,131.24 L145.00,130.12 L146.00,129.03 L147.00,127.95 L148.00,126.89 L149.00,125.85 L150.00,124.83 L151.00,123.83 L152.00,122.85 L153.00,121.89 L154.00,120.95 L155.00,120.02 L156.00,119.11 L157.00,118.23 L158.00,117.36 L159.00,116.51 L160.00,115.67 L161.00,114.86 L162.00,114.06 L163.00,113.28 L164.00,112.52 L165.00,111.78 L166.00,111.05 L167.00,110.35 L168.00,109.66 L169.00,108.98 L170.00,108.33 L171.00,107.69 L172.00,107.08 L173.00,106.48 L174.00,105.89 L175.00,105.33 L176.00,104.77 L177.00,104.24 L178.00,103.71 L179.00,103.20 L180.00,102.70 L181.00,102.22 L182.00,101.74 L183.00,101.27 L184.00,100.82 L185.00,100.37 L186.00,99.93 L187.00,99.50 L188.00,99.08 L189.00,98.66 L190.00,98.25 L191.00,97.85 L192.00,97.44 L193.00,97.05 L194.00,96.65 L195.00,96.26 L196.00,95.88 L197.00,95.49 L198.00,95.10 L199.00,94.72 L200.00,94.34 L201.00,93.95 L202.00,93.57 L203.00,93.19 L204.00,92.81 L205.00,92.43 L206.00,92.05 L207.00,91.67 L208.00,91.29 L209.00,90.91 L210.00,90.53 L211.00,90.16 L212.00,89.78 L213.00,89.41 L214.00,89.04 L215.00,88.67 L216.00,88.30 L217.00,87.93 L218.00,87.57 L219.00,87.21 L220.00,86.85 L221.00,86.50 L222.00,86.14 L223.00,85.79 L224.00,85.45 L225.00,85.11 L226.00,84.77 L227.00,84.43 L228.00,84.10 L229.00,83.77 L230.00,83.45 L231.00,83.13 L232.00,82.82 L233.00,82.51 L234.00,82.21 L235.00,81.91 L236.00,81.62 L237.00,81.34 L238.00,81.06 L239.00,80.78 L240.00,80.52 L241.00,80.26 L242.00,80.01 L243.00,79.76 L244.00,79.52 L245.00,79.29 L246.00,79.06 L247.00,78.84 L248.00,78.63 L249.00,78.43 L250.00,78.23 L251.00,78.03 L252.00,77.85 L253.00,77.67 L254.00,77.50 L255.00,77.33 L256.00,77.18 L257.00,77.02 L258.00,76.88 L259.00,76.74 L260.00,76.61 L261.00,76.49 L262.00,76.37 L263.00,76.26 L264.00,76.16 L265.00,76.06 L266.00,75.97 L267.00,75.89 L268.00,75.81 L269.00,75.74 L270.00,75.68 L271.00,75.62 L272.00,75.57 L273.00,75.53 L274.00,75.50 L275.00,75.47 L276.00,75.45 L277.00,75.44 L278.00,75.43 L279.00,75.44 L280.00,75.45 L281.00,75.46 L282.00,75.48 L283.00,75.52 L284.00,75.55 L285.00,75.60 L286.00,75.65 L287.00,75.70 L288.00,75.77 L289.00,75.84 L290.00,75.91 L291.00,76.00 L292.00,76.08 L293.00,76.18 L294.00,76.28 L295.00,76.38 L296.00,76.50 L297.00,76.61 L298.00,76.73 L299.00,76.86 L300.00,76.99 L301.00,77.13 L302.00,77.27 L303.00,77.42 L304.00,77.57 L305.00,77.73 L306.00,77.89 L307.00,78.05 L308.00,78.22 L309.00,78.40 L310.00,78.57 L311.00,78.75 L312.00,78.94 L313.00,79.13 L314.00,79.32 L315.00,79.51 L316.00,79.71 L317.00,79.92 L318.00,80.12 L319.00,80.33 L320.00,80.54 L321.00,80.75 L322.00,80.97 L323.00,81.19 L324.00,81.41 L325.00,81.64 L326.00,81.86 L327.00,82.09 L328.00,82.32 L329.00,82.56 L330.00,82.79 L331.00,83.03 L332.00,83.26 L333.00,83.50 L334.00,83.75 L335.00,83.99 L336.00,84.23 L337.00,84.48 L338.00,84.72 L339.00,84.97 L340.00,85.22 L341.00,85.47 L342.00,85.72 L343.00,85.96 L344.00,86.21 L345.00,86.47 L346.00,86.72 L347.00,86.97 L348.00,87.22 L349.00,87.47 L350.00,87.72 L351.00,87.97 L352.00,88.22 L353.00,88.47 L354.00,88.72 L355.00,88.96 L356.00,89.21 L357.00,89.46 L358.00,89.70 L359.00,89.95 L360.00,90.19 L361.00,90.43 L362.00,90.67 L363.00,90.91 L364.00,91.15 L365.00,91.38 L366.00,91.62 L367.00,91.85 L368.00,92.08 L369.00,92.31 L370.00,92.53 L371.00,92.75 L372.00,92.97 L373.00,93.19 L374.00,93.41 L375.00,93.62 L376.00,93.83 L377.00,94.04 L378.00,94.24 L379.00,94.44 L380.00,94.64 L381.00,94.83 L382.00,95.03 L383.00,95.21 L384.00,95.40 L385.00,95.58 L386.00,95.76 L387.00,95.93 L388.00,96.10 L389.00,96.27 L390.00,96.44 L391.00,96.60 L392.00,96.75 L393.00,96.91 L394.00,97.06 L395.00,97.20 L396.00,97.34 L397.00,97.48 L398.00,97.61 L399.00,97.74 L400.00,97.87 L401.00,97.99 L402.00,98.11 L403.00,98.22 L404.00,98.33 L405.00,98.43 L406.00,98.53 L407.00,98.63 L408.00,98.72 L409.00,98.81 L410.00,98.89 L411.00,98.96 L412.00,99.04 L413.00,99.10 L414.00,99.17 L415.00,99.23 L416.00,99.28 L417.00,99.33 L418.00,99.37 L419.00,99.41 L420.00,99.44 L421.00,99.47 L422.00,99.49 L423.00,99.51 L424.00,99.52 L425.00,99.53 L426.00,99.53 L427.00,99.53 L428.00,99.52 L429.00,99.50 L430.00,99.48 L431.00,99.46 L432.00,99.43 L433.00,99.39 L434.00,99.35 L435.00,99.30 L436.00,99.25 L437.00,99.20 L438.00,99.14 L439.00,99.07 L440.00,99.00 L441.00,98.93 L442.00,98.85 L443.00,98.77 L444.00,98.68 L445.00,98.59 L446.00,98.50 L447.00,98.40 L448.00,98.30 L449.00,98.19 L450.00,98.08 L451.00,97.97 L452.00,97.85 L453.00,97.73 L454.00,97.60 L455.00,97.48 L456.00,97.35 L457.00,97.21 L458.00,97.08 L459.00,96.94 L460.00,96.79 L461.00,96.65 L462.00,96.50 L463.00,96.35 L464.00,96.20 L465.00,96.04 L466.00,95.88 L467.00,95.72 L468.00,95.56 L469.00,95.40 L470.00,95.23 L471.00,95.06 L472.00,94.89 L473.00,94.72 L474.00,94.55 L475.00,94.37 L476.00,94.20 L477.00,94.02 L478.00,93.84 L479.00,93.66 L480.00,93.48 L481.00,93.29 L482.00,93.11 L483.00,92.92 L484.00,92.74 L485.00,92.55 L486.00,92.36 L487.00,92.18 L488.00,91.99 L489.00,91.80 L490.00,91.61 L491.00,91.42 L492.00,91.23 L493.00,91.04 L494.00,90.85 L495.00,90.66 L496.00,90.48 L497.00,90.29 L498.00,90.10 L499.00,89.91 L500.00,89.72 L501.00,89.54 L502.00,89.35 L503.00,89.16 L504.00,88.98 L505.00,88.80 L506.00,88.61 L507.00,88.43 L508.00,88.25 L509.00,88.07 L510.00,87.89 L511.00,87.72 L512.00,87.54 L513.00,87.37 L514.00,87.20 L515.00,87.03 L516.00,86.86 L517.00,86.70 L518.00,86.53 L519.00,86.37 L520.00,86.21 L521.00,86.05 L522.00,85.90 L523.00,85.74 L524.00,85.59 L525.00,85.44 L526.00,85.29 L527.00,85.15 L528.00,85.00 L529.00,84.86 L530.00,84.73 L531.00,84.59 L532.00,84.46 L533.00,84.33 L534.00,84.20 L535.00,84.07 L536.00,83.95 L537.00,83.83 L538.00,83.71 L539.00,83.60 L540.00,83.48 L541.00,83.38 L542.00,83.27 L543.00,83.17 L544.00,83.07 L545.00,82.97 L546.00,82.87 L547.00,82.78 L548.00,82.69 L549.00,82.61 L550.00,82.53 L551.00,82.45 L552.00,82.37 L553.00,82.30 L554.00,82.23 L555.00,82.17 L556.00,82.11 L557.00,82.05 L558.00,81.99 L559.00,81.94 L560.00,81.90 L561.00,81.85 L562.00,81.81 L563.00,81.78 L564.00,81.74 L565.00,81.71 L566.00,81.69 L567.00,81.67 L568.00,81.65 L569.00,81.64 L570.00,81.63 L571.00,81.63 L572.00,81.62 L573.00,81.63 L574.00,81.64 L575.00,81.65 L576.00,81.66 L577.00,81.68 L578.00,81.71 L579.00,81.74 L580.00,81.77" stroke="#800080" stroke-width="2.08" stroke-linejoin="round" stroke-linecap="square"/>
<path d="M61.28,271.07 L62.00,271.07 L63.00,271.06 L64.00,271.05 L65.00,271.03 L66.00,270.98 L67.00,270.92 L68.00,270.83 L69.00,270.71 L70.00,270.55 L71.00,270.36 L72.00,270.13 L73.00,269.85 L74.00,269.52 L75.00,269.13 L76.00,268.69 L77.00,268.19 L78.00,267.62 L79.00,266.99 L80.00,266.29 L81.00,265.51 L82.00,264.67 L83.00,263.75 L84.00,262.75 L85.00,261.67 L86.00,260.52 L87.00,259.28 L88.00,257.97 L89.00,256.58 L90.00,255.12 L91.00,253.57 L92.00,251.96 L93.00,250.27 L94.00,248.51 L95.00,246.69 L96.00,244.80 L97.00,242.85 L98.00,240.84 L99.00,238.78 L100.00,236.67 L101.00,234.52 L102.00,232.32 L103.00,230.09 L104.00,227.82 L105.00,225.53 L106.00,223.21 L107.00,220.87 L108.00,218.52 L109.00,216.16 L110.00,213.79 L111.00,211.42 L112.00,209.05 L113.00,206.69 L114.00,204.33 L115.00,201.99 L116.00,199.66 L117.00,197.35 L118.00,195.06 L119.00,192.79 L120.00,190.55 L121.00,188.34 L122.00,186.16 L123.00,184.01 L124.00,181.89 L125.00,179.80 L126.00,177.76 L127.00,175.75 L128.00,173.77 L129.00,171.84 L130.00,169.94 L131.00,168.09 L132.00,166.27 L133.00,164.49 L134.00,162.75 L135.00,161.05 L136.00,159.40 L137.00,157.78 L138.00,156.20 L139.00,154.65 L140.00,153.15 L141.00,151.69 L142.00,150.26 L143.00,148.87 L144.00,147.51 L145.00,146.19 L146.00,144.91 L147.00,143.66 L148.00,142.44 L149.00,141.26 L150.00,140.11 L151.00,138.99 L152.00,137.90 L153.00,136.84 L154.00,135.81 L155.00,134.80 L156.00,133.83 L157.00,132.88 L158.00,131.96 L159.00,131.06 L160.00,130.19 L161.00,129.35 L162.00,128.52 L163.00,127.73 L164.00,126.95 L165.00,126.19 L166.00,125.46 L167.00,124.74 L168.00,124.05 L169.00,123.37 L170.00,122.72 L171.00,122.08 L172.00,121.46 L173.00,120.85 L174.00,120.26 L175.00,119.69 L176.00,119.14 L177.00,118.60 L178.00,118.07 L179.00,117.56 L180.00,117.06 L181.00,116.58 L182.00,116.10 L183.00,115.65 L184.00,115.20 L185.00,114.76 L186.00,114.34 L187.00,113.93 L188.00,113.53 L189.00,113.14 L190.00,112.76 L191.00,112.38 L192.00,112.02 L193.00,111.67 L194.00,111.33 L195.00,110.99 L196.00,110.67 L197.00,110.35 L198.00,110.04 L199.00,109.74 L200.00,109.45 L201.00,109.16 L202.00,108.88 L203.00,108.61 L204.00,108.34 L205.00,108.08 L206.00,107.83 L207.00,107.58 L208.00,107.34 L209.00,107.10 L210.00,106.87 L211.00,106.65 L212.00,106.43 L213.00,106.22 L214.00,106.01 L215.00,105.80 L216.00,105.60 L217.00,105.41 L218.00,105.22 L219.00,105.03 L220.00,104.85 L221.00,104.67 L222.00,104.50 L223.00,104.33 L224.00,104.17 L225.00,104.00 L226.00,103.85 L227.00,103.69 L228.00,103.54 L229.00,103.39 L230.00,103.25 L231.00,103.10 L232.00,102.97 L233.00,102.83 L234.00,102.70 L235.00,102.57 L236.00,102.44 L237.00,102.32 L238.00,102.19 L239.00,102.07 L240.00,101.96 L241.00,101.84 L242.00,101.73 L243.00,101.62 L244.00,101.51 L245.00,101.41 L246.00,101.31 L247.00,101.20 L248.00,101.11 L249.00,101.01 L250.00,100.91 L251.00,100.82 L252.00,100.73 L253.00,100.64 L254.00,100.55 L255.00,100.47 L256.00,100.38 L257.00,100.30 L258.00,100.22 L259.00,100.14 L260.00,100.06 L261.00,99.98 L262.00,99.91 L263.00,99.83 L264.00,99.76 L265.00,99.69 L266.00,99.62 L267.00,99.55 L268.00,99.49 L269.00,99.42 L270.00,99.35 L271.00,99.29 L272.00,99.23 L273.00,99.17 L274.00,99.11 L275.00,99.05 L276.00,98.99 L277.00,98.93 L278.00,98.88 L279.00,98.82 L280.00,98.77 L281.00,98.72 L282.00,98.66 L283.00,98.61 L284.00,98.56 L285.00,98.51 L286.00,98.46 L287.00,98.42 L288.00,98.37 L289.00,98.32 L290.00,98.28 L291.00,98.23 L292.00,98.19 L293.00,98.15 L294.00,98.10 L295.00,98.06 L296.00,98.02 L297.00,97.98 L298.00,97.94 L299.00,97.90 L300.00,97.86 L301.00,97.82 L302.00,97.79 L303.00,97.75 L304.00,97.71 L305.00,97.68 L306.00,97.64 L307.00,97.61 L308.00,97.58 L309.00,97.54 L310.00,97.51 L311.00,97.48 L312.00,97.45 L313.00,97.41 L314.00,97.38 L315.00,97.35 L316.00,97.32 L317.00,97.29 L318.00,97.27 L319.00,97.24 L320.00,97.21 L321.00,97.18 L322.00,97.15 L323.00,97.13 L324.00,97.10 L325.00,97.07 L326.00,97.05 L327.00,97.02 L328.00,97.00 L329.00,96.97 L330.00,96.95 L331.00,96.93 L332.00,96.90 L333.00,96.88 L334.00,96.86 L335.00,96.83 L336.00,96.81 L337.00,96.79 L338.00,96.77 L339.00,96.75 L340.00,96.73 L341.00,96.71 L342.00,96.69 L343.00,96.67 L344.00,96.65 L345.00,96.63 L346.00,96.61 L347.00,96.59 L348.00,96.57 L349.00,96.55 L350.00,96.53 L351.00,96.51 L352.00,96.50 L353.00,96.48 L354.00,96.46 L355.00,96.44 L356.00,96.43 L357.00,96.41 L358.00,96.39 L359.00,96.38 L360.00,96.36 L361.00,96.35 L362.00,96.33 L363.00,96.32 L364.00,96.30 L365.00,96.29 L366.00,96.27 L367.00,96.26 L368.00,96.24 L369.00,96.23 L370.00,96.21 L371.00,96.20 L372.00,96.19 L373.00,96.17 L374.00,96.16 L375.00,96.15 L376.00,96.13 L377.00,96.12 L378.00,96.11 L379.00,96.10 L380.00,96.08 L381.00,96.07 L382.00,96.06 L383.00,96.05 L384.00,96.04 L385.00,96.02 L386.00,96.01 L387.00,96.00 L388.00,95.99 L389.00,95.98 L390.00,95.97 L391.00,95.96 L392.00,95.95 L393.00,95.94 L394.00,95.93 L395.00,95.92 L396.00,95.91 L397.00,95.90 L398.00,95.89 L399.00,95.88 L400.00,95.87 L401.00,95.86 L402.00,95.85 L403.00,95.84 L404.00,95.83 L405.00,95.82 L406.00,95.81 L407.00,95.80 L408.00,95.79 L409.00,95.78 L410.00,95.77 L411.00,95.77 L412.00,95.76 L413.00,95.75 L414.00,95.74 L415.00,95.73 L416.00,95.72 L417.00,95.72 L418.00,95.71 L419.00,95.70 L420.00,95.69 L421.00,95.69 L422.00,95.68 L423.00,95.67 L424.00,95.66 L425.00,95.66 L426.00,95.65 L427.00,95.64 L428.00,95.63 L429.00,95.63 L430.00,95.62 L431.00,95.61 L432.00,95.61 L433.00,95.60 L434.00,95.59 L435.00,95.59 L436.00,95.58 L437.00,95.57 L438.00,95.57 L439.00,95.56 L440.00,95.56 L441.00,95.55 L442.00,95.54 L443.00,95.54 L444.00,95.53 L445.00,95.53 L446.00,95.52 L447.00,95.51 L448.00,95.51 L449.00,95.50 L450.00,95.50 L451.00,95.49 L452.00,95.49 L453.00,95.48 L454.00,95.47 L455.00,95.47 L456.00,95.46 L457.00,95.46 L458.00,95.45 L459.00,95.45 L460.00,95.44 L461.00,95.44 L462.00,95.43 L463.00,95.43 L464.00,95.42 L465.00,95.42 L466.00,95.41 L467.00,95.41 L468.00,95.40 L469.00,95.40 L470.00,95.40 L471.00,95.39 L472.00,95.39 L473.00,95.38 L474.00,95.38 L475.00,95.37 L476.00,95.37 L477.00,95.36 L478.00,95.36 L479.00,95.36 L480.00,95.35 L481.00,95.35 L482.00,95.34 L483.00,95.34 L484.00,95.34 L485.00,95.33 L486.00,95.33 L487.00,95.32 L488.00,95.32 L489.00,95.32 L490.00,95.31 L491.00,95.31 L492.00,95.30 L493.00,95.30 L494.00,95.30 L495.00,95.29 L496.00,95.29 L497.00,95.29 L498.00,95.28 L499.00,95.28 L500.00,95.28 L501.00,95.27 L502.00,95.27 L503.00,95.27 L504.00,95.26 L505.00,95.26 L506.00,95.26 L507.00,95.25 L508.00,95.25 L509.00,95.25 L510.00,95.24 L511.00,95.24 L512.00,95.24 L513.00,95.23 L514.00,95.23 L515.00,95.23 L516.00,95.22 L517.00,95.22 L518.00,95.22 L519.00,95.22 L520.00,95.21 L521.00,95.21 L522.00,95.21 L523.00,95.20 L524.00,95.20 L525.00,95.20 L526.00,95.20 L527.00,95.19 L528.00,95.19 L529.00,95.19 L530.00,95.19 L531.00,95.18 L532.00,95.18 L533.00,95.18 L534.00,95.17 L535.00,95.17 L536.00,95.17 L537.00,95.17 L538.00,95.16 L539.00,95.16 L540.00,95.16 L541.00,95.16 L542.00,95.16 L543.00,95.15 L544.00,95.15 L545.00,95.15 L546.00,95.15 L547.00,95.14 L548.00,95.14 L549.00,95.14 L550.00,95.14 L551.00,95.13 L552.00,95.13 L553.00,95.13 L554.00,95.13 L555.00,95.13 L556.00,95.12 L557.00,95.12 L558.00,95.12 L559.00,95.12 L560.00,95.11 L561.00,95.11 L562.00,95.11 L563.00,95.11 L564.00,95.11 L565.00,95.10 L566.00,95.10 L567.00,95.10 L568.00,95.10 L569.00,95.10 L570.00,95.10 L571.00,95.09 L572.00,95.09 L573.00,95.09 L574.00,95.09 L575.00,95.09 L576.00,95.08 L577.00,95.08 L578.00,95.08 L579.00,95.08 L580.00,95.08" stroke="#8b0000" stroke-width="2.08" stroke-dasharray="7.7 3.33" stroke-linejoin="round"/>
<line x1="66.0" y1="94.77" x2="580.0" y2="94.77" stroke="#000" stroke-width="1.5625" stroke-dasharray="5.77 2.5" stroke-dashoffset="0.2"/>
<line x1="108.44" y1="11.0" x2="108.44" y2="326.5" stroke="#000" stroke-width="1.5625" stroke-dasharray="5.75 2.5" stroke-dashoffset="4.5"/>
</g>
<rect x="66.0" y="11.0" width="514.0" height="315.5" fill="none" stroke="#000" stroke-width="1.08"/>
<g><line x1="62.35" y1="24.25" x2="66.00" y2="24.25" class="tk"/><text x="42.51" y="28.00" font-size="10.9" textLength="15.57" lengthAdjust="spacingAndGlyphs">0.4</text><line x1="62.35" y1="59.51" x2="66.00" y2="59.51" class="tk"/><text x="42.51" y="63.26" font-size="10.9" textLength="15.82" lengthAdjust="spacingAndGlyphs">0.2</text><line x1="62.35" y1="94.77" x2="66.00" y2="94.77" class="tk"/><text x="42.51" y="98.52" font-size="10.9" textLength="15.68" lengthAdjust="spacingAndGlyphs">0.0</text><line x1="62.35" y1="130.03" x2="66.00" y2="130.03" class="tk"/><text x="33.84" y="133.78" font-size="10.9" textLength="24.54" lengthAdjust="spacingAndGlyphs">−0.2</text><line x1="62.35" y1="165.29" x2="66.00" y2="165.29" class="tk"/><text x="33.84" y="169.04" font-size="10.9" textLength="24.27" lengthAdjust="spacingAndGlyphs">−0.4</text><line x1="62.35" y1="200.55" x2="66.00" y2="200.55" class="tk"/><text x="33.84" y="204.30" font-size="10.9" textLength="24.46" lengthAdjust="spacingAndGlyphs">−0.6</text><line x1="62.35" y1="235.81" x2="66.00" y2="235.81" class="tk"/><text x="33.84" y="239.56" font-size="10.9" textLength="24.45" lengthAdjust="spacingAndGlyphs">−0.8</text><line x1="62.35" y1="271.07" x2="66.00" y2="271.07" class="tk"/><text x="33.84" y="274.82" font-size="10.9" textLength="24.39" lengthAdjust="spacingAndGlyphs">−1.0</text><line x1="62.35" y1="306.33" x2="66.00" y2="306.33" class="tk"/><text x="33.84" y="310.08" font-size="10.9" textLength="24.54" lengthAdjust="spacingAndGlyphs">−1.2</text><line x1="108.44" y1="326.50" x2="108.44" y2="330.15" class="tk"/><text x="105.14" y="341.50" font-size="10.9" textLength="6.40" lengthAdjust="spacingAndGlyphs">0</text><line x1="202.75" y1="326.50" x2="202.75" y2="330.15" class="tk"/><text x="199.29" y="341.50" font-size="10.9" textLength="6.71" lengthAdjust="spacingAndGlyphs">2</text><line x1="297.06" y1="326.50" x2="297.06" y2="330.15" class="tk"/><text x="293.96" y="341.50" font-size="10.9" textLength="6.07" lengthAdjust="spacingAndGlyphs">4</text><line x1="391.38" y1="326.50" x2="391.38" y2="330.15" class="tk"/><text x="387.92" y="341.50" font-size="10.9" textLength="6.63" lengthAdjust="spacingAndGlyphs">6</text><line x1="485.69" y1="326.50" x2="485.69" y2="330.15" class="tk"/><text x="482.33" y="341.50" font-size="10.9" textLength="6.52" lengthAdjust="spacingAndGlyphs">8</text><line x1="580.00" y1="326.50" x2="580.00" y2="330.15" class="tk"/><text x="573.40" y="341.50" font-size="10.9" textLength="13.16" lengthAdjust="spacingAndGlyphs">10</text></g>
<!-- axis labels -->
<text x="321.69" y="358.70" font-size="15.2" font-style="italic" textLength="7.72" lengthAdjust="spacingAndGlyphs">z</text>
<g transform="translate(0,188.7) rotate(-90)">
<text x="-0.22" y="26.10" font-size="15.0" font-style="italic" textLength="11.12" lengthAdjust="spacingAndGlyphs">ω</text>
<text x="11.84" y="28.80" font-size="10.8" font-style="italic" textLength="13.41" lengthAdjust="spacingAndGlyphs">eff</text>
<text x="26.82" y="24.70" font-size="14.0" textLength="3.64" lengthAdjust="spacingAndGlyphs">(</text>
<text x="31.99" y="26.00" font-size="15.0" font-style="italic" textLength="7.72" lengthAdjust="spacingAndGlyphs">z</text>
<text x="40.34" y="24.70" font-size="14.0" textLength="3.64" lengthAdjust="spacingAndGlyphs">)</text>
</g>
<!-- legend -->
<g fill="none">
<line x1="348.6" y1="257.5" x2="371.5" y2="257.5" stroke="#800080" stroke-width="2.08" stroke-linecap="square"/>
<rect x="348.6" y="271.1" width="22.9" height="8.0" fill="#800080" fill-opacity="0.2"/>
<line x1="348.6" y1="292.5" x2="371.5" y2="292.5" stroke="#8b0000" stroke-width="2.08" stroke-dasharray="7.7 3.33"/>
<line x1="348.6" y1="309.7" x2="371.5" y2="309.7" stroke="#000" stroke-width="1.5625" stroke-dasharray="5.78 2.5"/>
</g>
<g class="lg">
<text x="381.21" y="260.80" font-size="11.6" font-style="italic" textLength="7.16" lengthAdjust="spacingAndGlyphs">w</text>
<text x="390.00" y="262.60" font-size="8.4" textLength="11.43" lengthAdjust="spacingAndGlyphs">sin</text>
<text x="402.34" y="260.80" font-size="12.1" textLength="30.81" lengthAdjust="spacingAndGlyphs">CDM:</text><text x="437.23" y="260.80" font-size="12.1" textLength="26.05" lengthAdjust="spacingAndGlyphs">DESI</text><text x="463.54" y="261.60" font-size="14.6" textLength="8.53" lengthAdjust="spacingAndGlyphs">+</text><text x="472.59" y="260.80" font-size="12.1" textLength="26.33" lengthAdjust="spacingAndGlyphs">OHD</text><text x="499.75" y="261.60" font-size="14.6" textLength="8.35" lengthAdjust="spacingAndGlyphs">+</text><text x="508.54" y="260.80" font-size="12.1" textLength="13.13" lengthAdjust="spacingAndGlyphs">PP</text><text x="523.05" y="261.60" font-size="14.6" textLength="8.41" lengthAdjust="spacingAndGlyphs">+</text><text x="532.24" y="260.80" font-size="12.1" textLength="36.62" lengthAdjust="spacingAndGlyphs">SH0ES</text>
<text x="381.20" y="278.30" font-size="12.1" textLength="6.58" lengthAdjust="spacingAndGlyphs">1</text>
<text x="388.80" y="278.30" font-size="12.1" font-style="italic" textLength="7.22" lengthAdjust="spacingAndGlyphs">σ</text>
<text x="399.25" y="278.30" font-size="12.1" textLength="35.58" lengthAdjust="spacingAndGlyphs">region</text>
<text x="380.95" y="295.80" font-size="12.1" textLength="7.41" lengthAdjust="spacingAndGlyphs">Λ</text><text x="388.69" y="295.80" font-size="12.1" textLength="30.81" lengthAdjust="spacingAndGlyphs">CDM:</text><text x="423.58" y="295.80" font-size="12.1" textLength="26.05" lengthAdjust="spacingAndGlyphs">DESI</text><text x="449.89" y="296.60" font-size="14.6" textLength="8.53" lengthAdjust="spacingAndGlyphs">+</text><text x="458.94" y="295.80" font-size="12.1" textLength="26.33" lengthAdjust="spacingAndGlyphs">OHD</text><text x="486.10" y="296.60" font-size="14.6" textLength="8.35" lengthAdjust="spacingAndGlyphs">+</text><text x="494.89" y="295.80" font-size="12.1" textLength="13.13" lengthAdjust="spacingAndGlyphs">PP</text><text x="509.40" y="296.60" font-size="14.6" textLength="8.41" lengthAdjust="spacingAndGlyphs">+</text><text x="518.59" y="295.80" font-size="12.1" textLength="36.62" lengthAdjust="spacingAndGlyphs">SH0ES</text>
<text x="381.37" y="312.60" font-size="11.8" font-style="italic" textLength="7.74" lengthAdjust="spacingAndGlyphs">ω</text>
<text x="390.12" y="314.50" font-size="8.6" font-style="italic" textLength="10.88" lengthAdjust="spacingAndGlyphs">eff</text>
<text x="403.78" y="312.60" font-size="12.1" textLength="8.65" lengthAdjust="spacingAndGlyphs">=</text>
<text x="415.64" y="312.60" font-size="12.1" textLength="6.52" lengthAdjust="spacingAndGlyphs">0</text>
</g>
</svg>
</body></html>
